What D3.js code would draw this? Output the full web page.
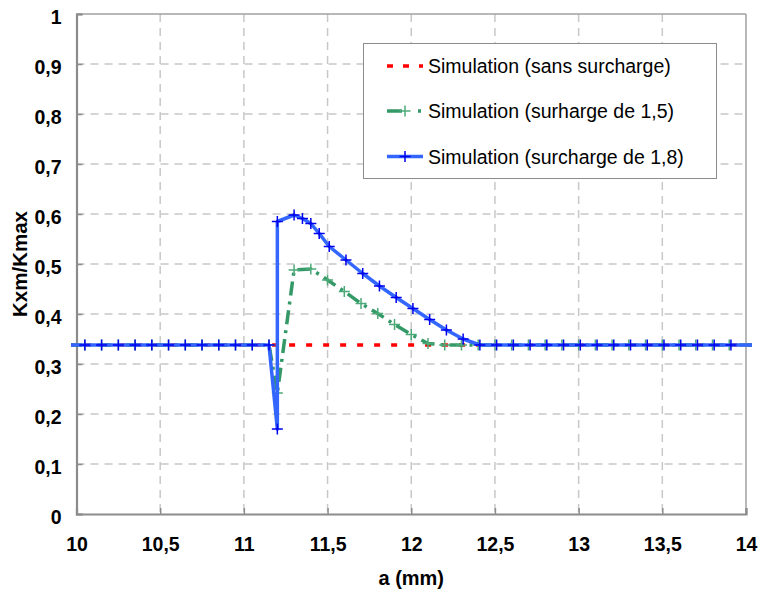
<!DOCTYPE html>
<html>
<head>
<meta charset="utf-8">
<script src="https://cdn.jsdelivr.net/npm/d3@7"></script>
<style>
  html, body { margin: 0; padding: 0; background: #fff; }
  svg { display: block; font-family: "Liberation Sans", Arial, sans-serif; }
</style>
</head>
<body>
<svg id="chart" width="760" height="592"></svg>
<script>
// ---------- data ----------
const xTicks = [10, 10.5, 11, 11.5, 12, 12.5, 13, 13.5, 14];
const yTicks = [0, 0.1, 0.2, 0.3, 0.4, 0.5, 0.6, 0.7, 0.8, 0.9, 1];

const seriesNames = [
  "Simulation (sans surcharge)",
  "Simulation (surharge de 1,5)",
  "Simulation (surcharge de 1,8)"
];

// sans surcharge (red dashed, no markers)
const redX = [9.95, 10.05, 10.15, 10.25, 10.35, 10.45, 10.55, 10.65, 10.75, 10.85, 10.95, 11.05, 11.15,
  11.3, 11.4, 11.5, 11.6, 11.7, 11.8, 11.9, 12.0, 12.1, 12.2, 12.3, 12.4, 12.5, 12.6, 12.7, 12.8, 12.9,
  13.0, 13.1, 13.2, 13.3, 13.4, 13.5, 13.6, 13.7, 13.8, 13.9, 14.05];
const redY = [0.338, 0.338, 0.338, 0.338, 0.338, 0.338, 0.338, 0.338, 0.338, 0.338, 0.338, 0.338, 0.338,
  0.338, 0.338, 0.338, 0.338, 0.338, 0.338, 0.338, 0.338, 0.338, 0.338, 0.338, 0.338, 0.338, 0.338, 0.338, 0.338, 0.338,
  0.338, 0.338, 0.338, 0.338, 0.338, 0.338, 0.338, 0.338, 0.338, 0.338, 0.338];

// surcharge de 1,5 (green dash-dot with + markers)
const greenX = [9.95, 10.05, 10.15, 10.25, 10.35, 10.45, 10.55, 10.65, 10.75, 10.85, 10.95, 11.05, 11.15,
  11.2, 11.3, 11.4, 11.5, 11.6, 11.7, 11.8, 11.9, 12.0, 12.1, 12.2, 12.3, 12.4, 12.5, 12.6, 12.7, 12.8, 12.9,
  13.0, 13.1, 13.2, 13.3, 13.4, 13.5, 13.6, 13.7, 13.8, 13.9, 14.05];
const greenY = [0.338, 0.338, 0.338, 0.338, 0.338, 0.338, 0.338, 0.338, 0.338, 0.338, 0.338, 0.338, 0.338,
  0.242, 0.488, 0.490, 0.468, 0.445, 0.421, 0.401, 0.379, 0.359, 0.341, 0.338, 0.338, 0.338, 0.338, 0.338, 0.338, 0.338, 0.338,
  0.338, 0.338, 0.338, 0.338, 0.338, 0.338, 0.338, 0.338, 0.338, 0.338, 0.338];

// surcharge de 1,8 (blue solid with + markers)
const blueX = [9.95, 10.05, 10.15, 10.25, 10.35, 10.45, 10.55, 10.65, 10.75, 10.85, 10.95, 11.05, 11.15,
  11.2, 11.2, 11.3, 11.35, 11.4, 11.45, 11.51, 11.61, 11.71, 11.81, 11.91, 12.01, 12.11, 12.21, 12.31, 12.41,
  12.51, 12.61, 12.71, 12.81, 12.91, 13.01, 13.11, 13.21, 13.31, 13.41, 13.51, 13.61, 13.71, 13.81, 13.91, 14.05];
const blueY = [0.338, 0.338, 0.338, 0.338, 0.338, 0.338, 0.338, 0.338, 0.338, 0.338, 0.338, 0.338, 0.338,
  0.170, 0.585, 0.598, 0.591, 0.581, 0.561, 0.535, 0.508, 0.481, 0.456, 0.433, 0.411, 0.389, 0.368, 0.350, 0.338,
  0.338, 0.338, 0.338, 0.338, 0.338, 0.338, 0.338, 0.338, 0.338, 0.338, 0.338, 0.338, 0.338, 0.338, 0.338, 0.338];

// ---------- chart ----------
(function () {
const svg = d3.select("#chart");
const W = 760, H = 592;
const pL = 76.5, pR = 746, pT = 14, pB = 514;

const x = d3.scaleLinear().domain([10, 14]).range([pL, pR]);
const y = d3.scaleLinear().domain([0, 1]).range([pB, pT]);
const fmt = d => String(d).replace(".", ",");

svg.append("rect").attr("width", W).attr("height", H).attr("fill", "#fff");

// grid
const grid = svg.append("g");
grid.selectAll("line.h").data(yTicks.filter(d => d > 0 && d < 1)).join("line")
  .attr("x1", pL).attr("x2", pR)
  .attr("y1", d => y(d)).attr("y2", d => y(d))
  .attr("stroke", "#c8c8c8").attr("stroke-width", 1.5).attr("stroke-dasharray", "8,6");
grid.selectAll("line.v").data(xTicks.filter(d => d > 10 && d < 14)).join("line")
  .attr("y1", pT).attr("y2", pB)
  .attr("x1", d => x(d)).attr("x2", d => x(d))
  .attr("stroke", "#c8c8c8").attr("stroke-width", 1.5).attr("stroke-dasharray", "8,6");

// frame top/right
svg.append("line").attr("x1", pL).attr("x2", pR).attr("y1", pT).attr("y2", pT)
  .attr("stroke", "#a0a0a0").attr("stroke-width", 1.5);
svg.append("line").attr("x1", pR).attr("x2", pR).attr("y1", pT).attr("y2", pB)
  .attr("stroke", "#a0a0a0").attr("stroke-width", 1.5);

// axes
const yAxis = svg.append("g").attr("transform", `translate(${pL},0)`)
  .call(d3.axisLeft(y).tickValues(yTicks).tickFormat(fmt).tickSize(-6).tickPadding(15));
const xAxis = svg.append("g").attr("transform", `translate(0,${pB})`)
  .call(d3.axisBottom(x).tickValues(xTicks).tickFormat(fmt).tickSize(-6).tickPadding(23));
[yAxis, xAxis].forEach(g => {
  g.select(".domain").attr("stroke", "#8c8c8c").attr("stroke-width", 2.2);
  g.selectAll(".tick line").attr("stroke", "#8c8c8c").attr("stroke-width", 1.5);
  g.selectAll(".tick text").attr("font-family", '"Liberation Sans", Arial, sans-serif')
    .attr("font-size", 19.5).attr("font-weight", "bold").attr("fill", "#000");
});
yAxis.selectAll(".tick text").attr("dy", "0.5em");

// axis titles
svg.append("text").attr("x", (pL + pR) / 2).attr("y", 585).attr("text-anchor", "middle")
  .attr("font-size", 20).attr("font-weight", "bold").text("a (mm)");
svg.append("text").attr("transform", `translate(27,${(pT + pB) / 2}) rotate(-90)`)
  .attr("text-anchor", "middle").attr("font-size", 20.5).attr("font-weight", "bold").text("Kxm/Kmax");

// clip for lines
svg.append("clipPath").attr("id", "clip").append("rect")
  .attr("x", 71).attr("y", 0).attr("width", 752 - 71).attr("height", H);

const line = d3.line().x(d => x(d[0])).y(d => y(d[1]));
const red = redX.map((v, i) => [v, redY[i]]);
const green = greenX.map((v, i) => [v, greenY[i]]);
const blue = blueX.map((v, i) => [v, blueY[i]]);
const inside = d => d[0] >= 10 && d[0] <= 14;

const plot = svg.append("g").attr("clip-path", "url(#clip)");
plot.append("path").datum(red).attr("d", line).attr("fill", "none")
  .attr("stroke", "#ff0000").attr("stroke-width", 3.5).attr("stroke-dasharray", "6,11");
plot.append("path").datum(green).attr("d", line).attr("fill", "none")
  .attr("stroke", "#339966").attr("stroke-width", 3.5).attr("stroke-dasharray", "14,6,3,6");

function cross(g, data, color, size, sw) {
  const s = size / 2;
  g.selectAll(null).data(data.filter(inside)).join("path")
    .attr("d", d => `M${x(d[0]) - s},${y(d[1])}H${x(d[0]) + s}M${x(d[0])},${y(d[1]) - s}V${y(d[1]) + s}`)
    .attr("stroke", color).attr("stroke-width", sw).attr("fill", "none");
}
cross(plot.append("g"), green, "#4daa78", 11, 1.5);
plot.append("path").datum(blue).attr("d", line).attr("fill", "none")
  .attr("stroke", "#3366ff").attr("stroke-width", 3.5).attr("stroke-linejoin", "round");
cross(plot.append("g"), blue, "#0000ee", 11, 1.5);

// legend
const lg = svg.append("g");
lg.append("rect").attr("x", 363.5).attr("y", 43.5).attr("width", 353).attr("height", 135)
  .attr("fill", "#fff").attr("stroke", "#8c8c8c").attr("stroke-width", 1);
const rowsY = [66, 111, 156.5];
const lx1 = 387, lx2 = 423, lxm = (lx1 + lx2) / 2;
lg.append("line").attr("x1", lx1).attr("x2", lx2).attr("y1", rowsY[0]).attr("y2", rowsY[0])
  .attr("stroke", "#ff0000").attr("stroke-width", 3.5).attr("stroke-dasharray", "6,10");
lg.append("line").attr("x1", lx1).attr("x2", lx2).attr("y1", rowsY[1]).attr("y2", rowsY[1])
  .attr("stroke", "#339966").attr("stroke-width", 3.5).attr("stroke-dasharray", "15,16,3,10");
lg.append("path").attr("d", `M${lxm - 5.5},${rowsY[1]}H${lxm + 5.5}M${lxm},${rowsY[1] - 5.5}V${rowsY[1] + 5.5}`)
  .attr("stroke", "#4daa78").attr("stroke-width", 1.5);
lg.append("line").attr("x1", lx1).attr("x2", lx2).attr("y1", rowsY[2]).attr("y2", rowsY[2])
  .attr("stroke", "#3366ff").attr("stroke-width", 3.5);
lg.append("path").attr("d", `M${lxm - 5.5},${rowsY[2]}H${lxm + 5.5}M${lxm},${rowsY[2] - 5.5}V${rowsY[2] + 5.5}`)
  .attr("stroke", "#0000ee").attr("stroke-width", 1.5);
lg.selectAll("text.lbl").data(seriesNames).join("text")
  .attr("x", 428).attr("y", (d, i) => rowsY[i] + 7)
  .attr("font-size", 19.5).attr("fill", "#000").text(d => d);
})();
</script>
</body>
</html>
